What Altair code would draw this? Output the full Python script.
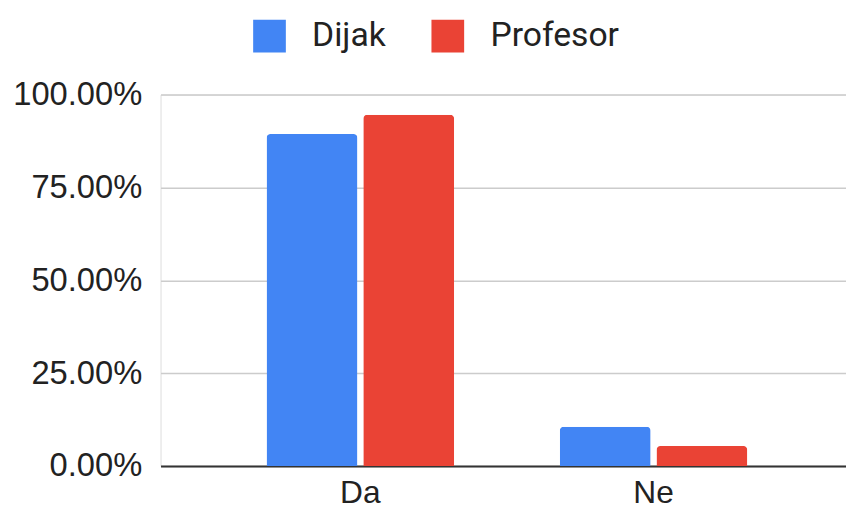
import altair as alt
import pandas as pd

categories = ["Da", "Ne"]
series = ["Dijak", "Profesor"]
dijak = [0.894, 0.106]
profesor = [0.946, 0.054]
colors = ["#4285F4", "#EA4335"]

rows = []
for i, c in enumerate(categories):
    rows.append({"odgovor": c, "skupina": "Dijak", "delez": dijak[i]})
    rows.append({"odgovor": c, "skupina": "Profesor", "delez": profesor[i]})
df = pd.DataFrame(rows)

chart = (
    alt.Chart(df)
    .mark_bar(cornerRadiusTopLeft=4, cornerRadiusTopRight=4)
    .encode(
        x=alt.X(
            "odgovor:N",
            sort=categories,
            title=None,
            scale=alt.Scale(paddingInner=0.36, paddingOuter=0.349, align=0.518),
            axis=alt.Axis(
                labelAngle=0,
                ticks=False,
                domainColor="#333333",
                domainWidth=2,
                labelFont="Liberation Sans",
                labelFontSize=32,
                labelColor="#222222",
                labelPadding=12,
                grid=False,
            ),
        ),
        xOffset=alt.XOffset(
            "skupina:N", sort=series, scale=alt.Scale(paddingInner=0.06)
        ),
        y=alt.Y(
            "delez:Q",
            title=None,
            scale=alt.Scale(domain=[0, 1]),
            axis=alt.Axis(
                values=[0, 0.25, 0.5, 0.75, 1],
                format=".2%",
                domain=False,
                ticks=False,
                labelFont="Liberation Sans",
                labelFontSize=33,
                labelColor="#222222",
                labelPadding=19,
                gridColor="#cccccc",
                gridWidth=1.5,
            ),
        ),
        color=alt.Color(
            "skupina:N",
            sort=series,
            scale=alt.Scale(domain=series, range=colors),
            legend=alt.Legend(
                title=None,
                orient="none",
                direction="horizontal",
                legendX=93,
                legendY=-76,
                symbolType="square",
                symbolSize=1089,
                symbolStrokeWidth=0,
                symbolOpacity=1,
                labelFont="Roboto",
                labelFontSize=34,
                labelColor="#222222",
                labelOffset=26,
                columnPadding=45,
                padding=0,
            ),
        ),
    )
    .properties(
        width=692,
        height=375,
        autosize=alt.AutoSizeParams(type="none"),
        padding={"left": 154, "top": 85, "right": 0, "bottom": 50},
    )
    .configure_view(stroke=None)
    .configure(background="white")
)

chart.save("out.html", embed_options={"renderer": "svg", "actions": False})
